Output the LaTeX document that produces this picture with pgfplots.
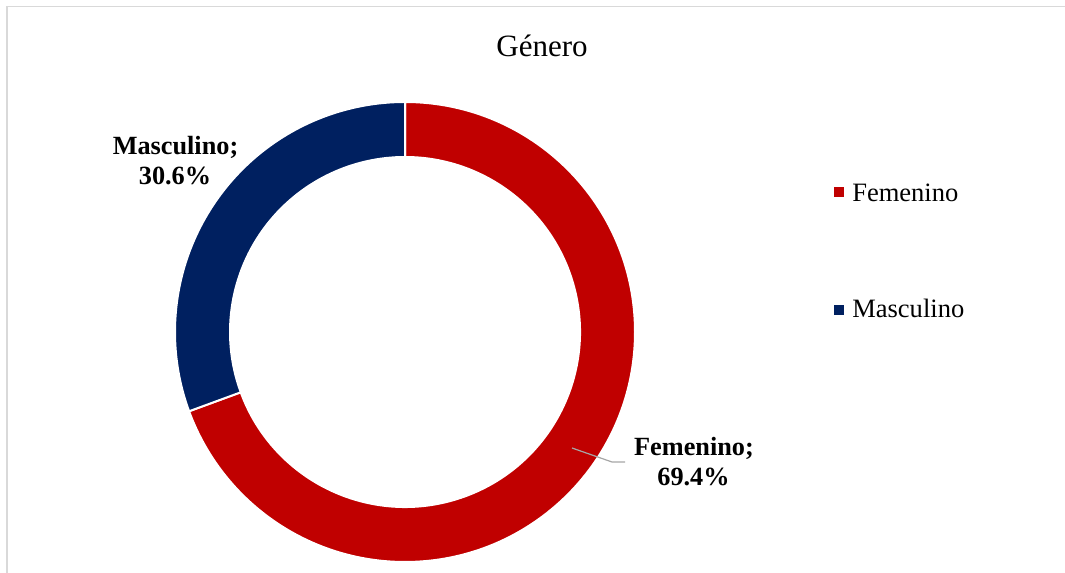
\documentclass[border=0pt]{standalone}
\usepackage{pgfplots}
\pgfplotsset{compat=1.18}
\usepackage{fontspec}
\setmainfont{Liberation Serif}
\usetikzlibrary{calc}
\definecolor{fem}{HTML}{C00000}
\definecolor{mas}{HTML}{002060}
\definecolor{frame}{HTML}{D9D9D9}
\definecolor{leader}{HTML}{A6A6A6}
\begin{document}
\begin{tikzpicture}
% data (percent)
\def\fem{69.4}
\def\mas{30.6}
\pgfmathsetmacro{\angB}{90-3.6*\fem}
\pgfmathsetmacro{\angC}{90+3.6*\mas}
\def\R{172.5pt}
\def\r{131.25pt}
\begin{axis}[at={(0,0)},anchor=south west,scale only axis,
  width=798.75pt,height=429.75pt,
  xmin=0,xmax=1065,ymin=0,ymax=573,hide axis,clip=false]
\coordinate (C) at (axis cs:405,241);
% Femenino
\fill[fem,draw=white,line width=1.5pt] ($(C)+(90:\R)$) arc[start angle=90,end angle=\angB,radius=\R]
  -- ($(C)+(\angB:\r)$) arc[start angle=\angB,end angle=90,radius=\r] -- cycle;
% Masculino
\fill[mas,draw=white,line width=1.5pt] ($(C)+(90:\R)$) arc[start angle=90,end angle=\angC,radius=\R]
  -- ($(C)+(\angC:\r)$) arc[start angle=\angC,end angle=90,radius=\r] -- cycle;
% title
\node[anchor=base,font=\fontsize{23.25}{28}\selectfont] at (axis cs:542,516) {Género};
% data labels
\node[anchor=base,font=\fontsize{19.7}{24}\selectfont\bfseries] at (axis cs:175.5,418) {Masculino;};
\node[anchor=base,font=\fontsize{19.7}{24}\selectfont\bfseries] at (axis cs:175,388) {30.6\%};
\node[anchor=base,font=\fontsize{19.7}{24}\selectfont\bfseries] at (axis cs:694,117) {Femenino;};
\node[anchor=base,font=\fontsize{19.7}{24}\selectfont\bfseries] at (axis cs:693.5,87) {69.4\%};
\draw[leader,line width=0.9pt] (axis cs:572,125) -- (axis cs:612,111) -- (axis cs:625,111);
% legend
\fill[fem] (axis cs:834,376) rectangle (axis cs:844,386);
\node[anchor=base west,inner sep=0pt,font=\fontsize{19.9}{24}\selectfont] at (axis cs:852,371) {Femenino};
\fill[mas] (axis cs:834,258) rectangle (axis cs:844,268);
\node[anchor=base west,inner sep=0pt,font=\fontsize{19.9}{24}\selectfont] at (axis cs:852,255) {Masculino};
% chart frame
\draw[frame,line width=1.2pt] (axis cs:7,-20) -- (axis cs:7,566.5) -- (axis cs:1090,566.5);
\end{axis}
\pgfresetboundingbox
\useasboundingbox (0,0) rectangle (798.75pt,429.75pt);
\end{tikzpicture}
\end{document}
